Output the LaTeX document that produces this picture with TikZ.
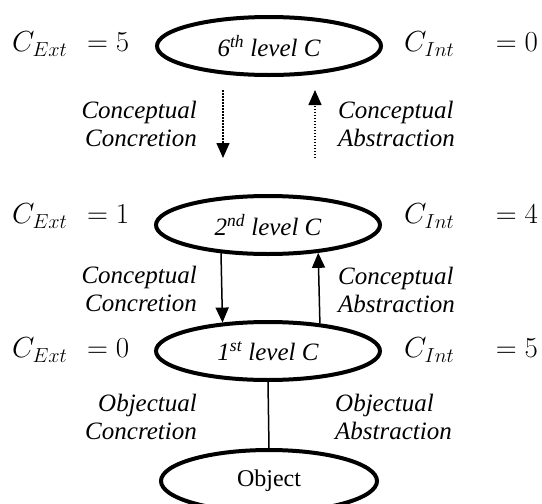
\RequirePackage{fix-cm}
\documentclass[tikz,border=0pt]{standalone}
\usepackage{fontspec}
\setmainfont{Liberation Serif}[ItalicFont={Liberation Serif Italic}]
\usetikzlibrary{shapes.geometric,arrows.meta}
\begin{document}
\begin{tikzpicture}[x=1pt,y=-1pt,
  lvl/.style={ellipse,draw,line width=4pt,minimum width=224pt,minimum height=58pt,inner sep=0pt,font=\fontsize{25}{28}\selectfont\itshape},
  lbl/.style={font=\fontsize{25}{28}\selectfont\itshape,inner sep=0pt},
  eq/.style={font=\fontsize{29}{32}\selectfont,inner sep=0pt},
  arr/.style={line width=1.5pt,-{Triangle[width=13pt,length=15pt]}},
  dotarr/.style={arr,dash pattern=on 1.5pt off 1.5pt}]
\useasboundingbox (0,0) rectangle (542,504);
\clip (0,0) rectangle (542,504);
% level ellipses
\node[lvl] (c6) at (269,46) {6\textsuperscript{th} level C};
\node[lvl] (c2) at (268,225) {2\textsuperscript{nd} level C};
\node[lvl] (c1) at (268,351) {1\textsuperscript{st} level C};
\node[lvl,font=\fontsize{24}{26}\selectfont,minimum width=216pt,minimum height=62pt] (obj) at (269,481) {Object};
% counts
\node[eq,anchor=west] (e6) at (12,44) {$C_{Ext}\hspace{0.4em}=5$};
\node[eq,anchor=west] (i6) at (404,44) {$C_{Int}\hspace{1.15em}=0$};
\node[eq,anchor=west] (e2) at (12,216) {$C_{Ext}\hspace{0.4em}=1$};
\node[eq,anchor=west] (i2) at (404,216) {$C_{Int}\hspace{1.15em}=4$};
\node[eq,anchor=west] (e1) at (12,350) {$C_{Ext}\hspace{0.4em}=0$};
\node[eq,anchor=west] (i1) at (404,350) {$C_{Int}\hspace{1.15em}=5$};
% dotted arrows between 6th and 2nd level
\coordinate (d1s) at (223,90);
\coordinate (d1e) at (223,158);
\coordinate (d2s) at (315,158);
\coordinate (d2e) at (315,90);
\draw[dotarr] (d1s) -- (d1e);
\draw[dotarr] (d2s) -- (d2e);
% solid arrows between 2nd and 1st level
\draw[arr] (c2.211.9) -- (c1.148.1);
\draw[arr] (c1.28.6) -- (c2.331.4);
% line to object
\draw[line width=1.5pt] (c1.south) -- (obj.north);
% labels
\node[lbl,align=right,anchor=east] (t1) at (197,124) {Conceptual\\Concretion};
\node[lbl,align=left,anchor=west] (t2) at (338,124) {Conceptual\\Abstraction};
\node[lbl,align=right,anchor=east] (t3) at (197,289) {Conceptual\\Concretion};
\node[lbl,align=left,anchor=west] (t4) at (338,290) {Conceptual\\Abstraction};
\node[lbl,align=right,anchor=east] (t5) at (197,417) {Objectual\\Concretion};
\node[lbl,align=left,anchor=west] (t6) at (335,417) {Objectual\\Abstraction};
\end{tikzpicture}
\end{document}
